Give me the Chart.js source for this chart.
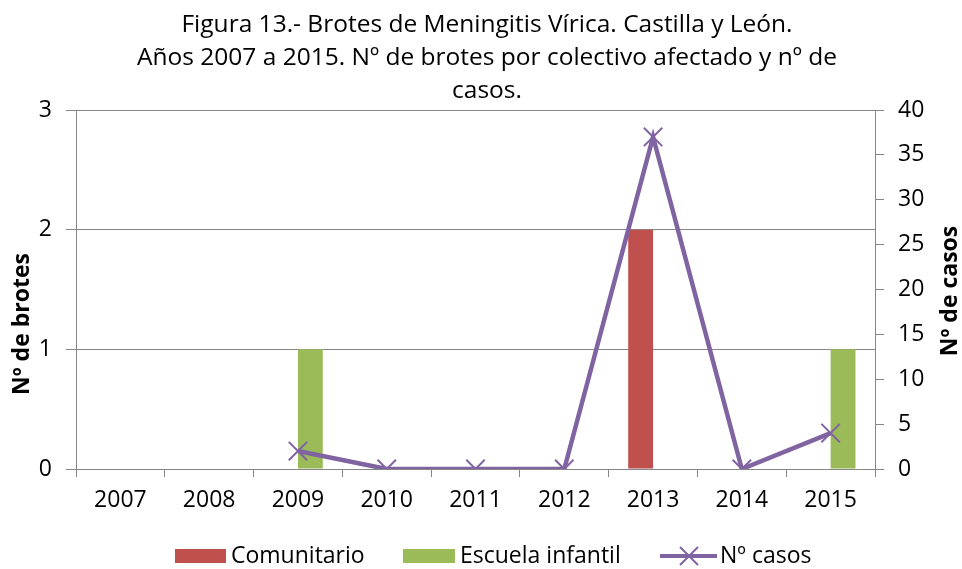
<!DOCTYPE html>
<html>
<head>
<meta charset="utf-8">
<script src="https://cdn.jsdelivr.net/npm/chart.js@4"></script>
<style>
  html, body { margin: 0; padding: 0; background: #fff; }
  #wrap { width: 962px; height: 569px; position: relative; }
</style>
</head>
<body>
<div id="wrap"><canvas id="c" width="962" height="569"></canvas></div>
<script>
const categories = ['2007', '2008', '2009', '2010', '2011', '2012', '2013', '2014', '2015'];
const comunitario = [0, 0, 0, 0, 0, 0, 2, 0, 0];
const escuelaInfantil = [0, 0, 1, 0, 0, 0, 0, 0, 1];
const numCasos = [null, null, 2, 0, 0, 0, 37, 0, 4];
const titleLines = [
  'Figura 13.- Brotes de Meningitis Vírica. Castilla y León.',
  'Años 2007 a 2015. Nº de brotes por colectivo afectado y nº de',
  'casos.'
];
const leftAxisTitle = 'Nº de brotes';
const rightAxisTitle = 'Nº de casos';
const seriesNames = ['Comunitario', 'Escuela infantil', 'Nº casos'];

const RED = '#C0504D', GREEN = '#9BBB59', PURPLE = '#8064A2', GRID = '#868686';
const FONT = "'Open Sans', 'Liberation Sans', sans-serif";

const decor = {
  id: 'decor',
  afterDraw(chart) {
    const ctx = chart.ctx;
    ctx.save();
    ctx.fillStyle = '#000';
    // title
    ctx.font = '24.5px ' + FONT;
    ctx.textAlign = 'center';
    ctx.textBaseline = 'alphabetic';
    const tb = [32, 65, 98];
    titleLines.forEach((t, i) => ctx.fillText(t, 487, tb[i]));
    // axis titles
    ctx.font = 'bold 23px ' + FONT;
    ctx.textBaseline = 'middle';
    ctx.save();
    ctx.translate(22, 324); ctx.rotate(-Math.PI / 2);
    ctx.fillText(leftAxisTitle, 0, 0);
    ctx.restore();
    ctx.save();
    ctx.translate(950, 291); ctx.rotate(-Math.PI / 2);
    ctx.fillText(rightAxisTitle, 0, 0);
    ctx.restore();
    // legend
    ctx.font = '23px ' + FONT;
    ctx.textAlign = 'left';
    const ly = 556;
    ctx.fillStyle = RED; ctx.fillRect(175, ly - 7, 51, 14);
    ctx.fillStyle = '#000'; ctx.fillText(seriesNames[0], 231, ly);
    ctx.fillStyle = GREEN; ctx.fillRect(403, ly - 7, 52, 14);
    ctx.fillStyle = '#000'; ctx.fillText(seriesNames[1], 460, ly);
    ctx.strokeStyle = PURPLE; ctx.lineWidth = 4;
    ctx.beginPath(); ctx.moveTo(660, ly); ctx.lineTo(717, ly); ctx.stroke();
    ctx.lineWidth = 2;
    ctx.beginPath();
    ctx.moveTo(680, ly - 9); ctx.lineTo(698, ly + 9);
    ctx.moveTo(698, ly - 9); ctx.lineTo(680, ly + 9);
    ctx.stroke();
    ctx.fillStyle = '#000'; ctx.fillText(seriesNames[2], 720, ly);
    ctx.restore();
  }
};

new Chart(document.getElementById('c'), {
  type: 'bar',
  data: {
    labels: categories,
    datasets: [
      { label: seriesNames[0], data: comunitario, backgroundColor: RED, borderWidth: 0,
        yAxisID: 'y', order: 2, categoryPercentage: 0.56, barPercentage: 1 },
      { label: seriesNames[1], data: escuelaInfantil, backgroundColor: GREEN, borderWidth: 0,
        yAxisID: 'y', order: 3, categoryPercentage: 0.56, barPercentage: 1 },
      { type: 'line', label: seriesNames[2], data: numCasos, yAxisID: 'y1', order: 1,
        borderColor: PURPLE, backgroundColor: PURPLE, borderWidth: 4.5, tension: 0,
        pointStyle: 'crossRot', pointRadius: 13, pointBorderWidth: 2,
        pointBorderColor: PURPLE, fill: false }
    ]
  },
  options: {
    responsive: false,
    animation: false,
    events: [],
    layout: { padding: { top: 110, left: 0, right: 0, bottom: 50 } },
    plugins: { legend: { display: false }, title: { display: false }, tooltip: { enabled: false } },
    scales: {
      x: {
        offset: true,
        grid: { display: true, drawOnChartArea: false, drawTicks: true, tickLength: 8, color: GRID, offset: true },
        border: { display: true, color: GRID, width: 1 },
        ticks: { color: '#000', font: { family: FONT, size: 23 }, padding: 10, maxRotation: 0 },
        afterFit(s) { s.height = 50; }
      },
      y: {
        position: 'left', min: 0, max: 3,
        grid: { color: GRID, tickLength: 10, drawTicks: true },
        border: { display: true, color: GRID },
        ticks: { stepSize: 1, color: '#000', font: { family: FONT, size: 23 }, padding: 14 },
        afterFit(s) { s.width = 76; }
      },
      y1: {
        position: 'right', min: 0, max: 40,
        grid: { drawOnChartArea: false, color: GRID, tickLength: 9, drawTicks: true },
        border: { display: true, color: GRID },
        ticks: { stepSize: 5, color: '#000', font: { family: FONT, size: 23 }, padding: 14 },
        afterFit(s) { s.width = 87; }
      }
    }
  },
  plugins: [decor]
});
</script>
</body>
</html>
